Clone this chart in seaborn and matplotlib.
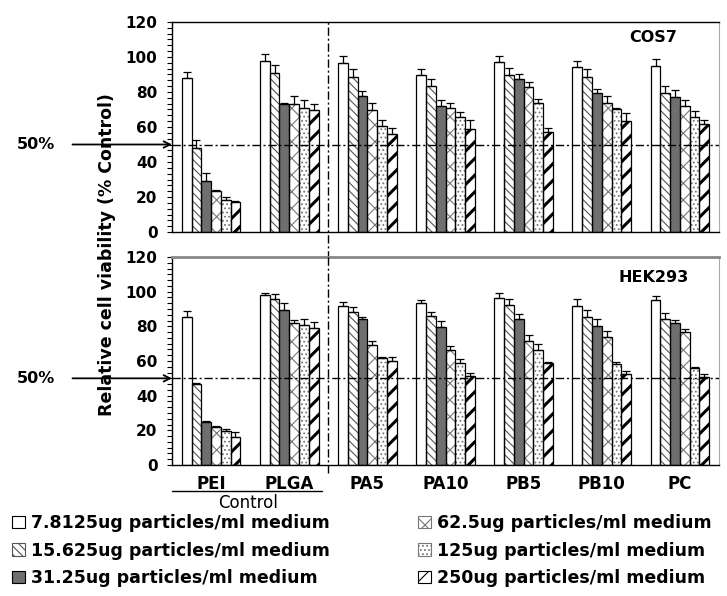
import matplotlib
matplotlib.use("Agg")
import matplotlib.pyplot as plt
import matplotlib.transforms as mtransforms
from matplotlib.patches import Patch, Rectangle
from matplotlib.ticker import MultipleLocator
import seaborn as sns
import pandas as pd
import numpy as np

# materials on the x axis
materials = ["PEI", "PLGA", "PA5", "PA10", "PB5", "PB10", "PC"]
# particle concentrations (hue)
doses = ["7.8125ug particles/ml medium", "15.625ug particles/ml medium",
         "31.25ug particles/ml medium", "62.5ug particles/ml medium",
         "125ug particles/ml medium", "250ug particles/ml medium"]

# COS7 viability, one row per material, one value per dose
cos7_mean = [[88, 48, 29, 23.5, 18.5, 17],
             [98, 91, 73, 73, 71, 69.5],
             [96.5, 88.5, 78, 70, 60.5, 56],
             [89.5, 83.5, 72, 71, 65.5, 59],
             [97, 89.5, 87.5, 83, 74, 57],
             [94.5, 88.5, 79.5, 74, 70.5, 63.5],
             [95, 79.5, 77, 72, 65.5, 62]]
cos7_err = [[3.5, 4.5, 4.5, 0.5, 1.5, 0.5],
            [4, 4.5, 0.5, 4.5, 4.5, 3.5],
            [4, 4.5, 2.5, 3.5, 3.5, 3.5],
            [3.5, 4, 3.5, 2.5, 3, 5],
            [3.5, 4.5, 3, 3, 2, 2.5],
            [3.5, 4.5, 2, 4, 0.5, 4.5],
            [4, 4, 4, 3.5, 3.5, 2]]

# HEK293 viability
hek_mean = [[85.5, 47, 25, 22, 19.5, 16],
            [98, 96, 89.5, 82, 81, 79],
            [91.5, 88.5, 84, 69, 62, 60],
            [93.5, 86, 79.5, 66.5, 59, 51.5],
            [96.5, 92.5, 84, 71.5, 66.5, 59],
            [91.5, 85.5, 80, 74, 58, 52.5],
            [95, 84, 82, 76.5, 56, 51]]
hek_err = [[3.5, 0.5, 0.5, 0.5, 1, 3],
           [1.5, 2.5, 4, 1.5, 3, 3.5],
           [2.5, 2.5, 1.5, 2.5, 0.5, 2.5],
           [1.5, 2.5, 3.5, 2, 2, 1.5],
           [2.5, 3.5, 3, 3.5, 3.5, 0.5],
           [4, 4, 4.5, 3.5, 1.5, 1.5],
           [2.5, 3.5, 1.5, 2, 0.5, 1.5]]

# bar look per dose: face, hatch, hatch colour
faces = ["white", "white", "#6f6f6f", "white", "white", "white"]
hatches = [None, "\\\\\\\\", None, "xx", "....", "//"]
hatch_cols = ["black", "#555555", "black", "#777777", "#777777", "black"]


def long_table(mean, err):
    rows = []
    for i, m in enumerate(materials):
        for j, d in enumerate(doses):
            rows.append({"material": m, "dose": d, "value": mean[i][j], "err": err[i][j]})
    return pd.DataFrame(rows)


sns.set_style("white")
plt.rcParams["font.family"] = ["DejaVu Sans"]
plt.rcParams["font.weight"] = "bold"
plt.rcParams["text.color"] = "black"
plt.rcParams["xtick.color"] = "black"
plt.rcParams["ytick.color"] = "black"
plt.rcParams["hatch.linewidth"] = 0.8

fig = plt.figure(figsize=(7.27, 5.96), dpi=100)
W, H = 727, 596
ax1 = fig.add_axes([172 / W, 1 - 232 / H, 547 / W, 210 / H])
ax2 = fig.add_axes([172 / W, 1 - 465 / H, 547 / W, 208 / H])


def draw(ax, df, name, top_col, name_y):
    sns.barplot(data=df, x="material", y="value", hue="dose", order=materials,
                hue_order=doses, errorbar=None, width=0.75, ax=ax, legend=False)
    bar_sets = list(ax.containers)
    for k, cont in enumerate(bar_sets):
        sub = df[df["dose"] == doses[k]].set_index("material").loc[materials]
        xs, ys = [], []
        for bar in cont:
            bar.set_facecolor(faces[k])
            bar.set_edgecolor(hatch_cols[k])
            bar.set_linewidth(0)
            if hatches[k]:
                bar.set_hatch(hatches[k])
                if k == 5 and hasattr(bar, "set_hatch_linewidth"):
                    bar.set_hatch_linewidth(2.2)
            ax.add_patch(Rectangle(bar.get_xy(), bar.get_width(), bar.get_height(),
                                   fill=False, edgecolor="black", lw=0.9, zorder=3))
            xs.append(bar.get_x() + bar.get_width() / 2)
            ys.append(bar.get_height())
        ax.errorbar(xs, ys, yerr=[np.zeros(len(ys)), sub["err"].values], fmt="none",
                    ecolor="black", elinewidth=0.9, capsize=3, capthick=0.9, zorder=4)
    ax.set_xlim(-0.5, 6.5)
    ax.set_ylim(0, 120)
    ax.yaxis.set_major_locator(MultipleLocator(20))
    ax.yaxis.set_minor_locator(MultipleLocator(20 / 6))
    ax.tick_params(axis="y", which="both", left=True, direction="out", length=3.5,
                   width=0.8, labelsize=11, pad=7)
    ax.tick_params(axis="x", bottom=False)
    for lab in ax.get_yticklabels():
        lab.set_fontweight("bold")
    ax.set_xlabel("")
    ax.set_ylabel("")
    for s in ["left", "bottom"]:
        ax.spines[s].set_color("black")
        ax.spines[s].set_linewidth(1)
    ax.spines["right"].set_color("#aaaaaa")
    ax.spines["top"].set_color(top_col)
    ax.spines["top"].set_linewidth(1 if top_col == "black" else 2)
    ax.axhline(50, color="black", lw=1, ls=(0, (6, 2, 1.5, 2)), zorder=5)
    ax.text(0.88, name_y, name, transform=ax.transAxes, ha="center", va="center",
            fontsize=11.5, fontweight="bold")
    ax.annotate("50%", xy=(-0.5, 50), xycoords="data", xytext=(-84, 0),
                textcoords="offset points", ha="right", va="center", fontsize=11.5,
                fontweight="bold", annotation_clip=False,
                arrowprops=dict(arrowstyle="->", color="black", lw=1.3, shrinkA=10, shrinkB=0))


draw(ax1, long_table(cos7_mean, cos7_err), "COS7", "black", 0.925)
draw(ax2, long_table(hek_mean, hek_err), "HEK293", "#888888", 0.9)

ax1.set_xticklabels([])
ax2.set_xticks(range(len(materials)))
ax2.set_xticklabels(materials, fontsize=12, fontweight="bold")
ax2.tick_params(axis="x", pad=4)

# control divider between PLGA and PA5
ax1.axvline(1.5, ymin=-0.13, ymax=1, color="black", lw=1, ls=(0, (6, 2, 1.5, 2)),
            clip_on=False, zorder=5)
ax2.axvline(1.5, ymin=-0.04, ymax=1, color="black", lw=1, ls=(0, (6, 2, 1.5, 2)),
            clip_on=False, zorder=5)

# "Control" bracket under PEI / PLGA
tr = mtransforms.blended_transform_factory(ax2.transData, ax2.transAxes)
ax2.plot([-0.5, 1.42], [-0.125, -0.125], color="black", lw=1, transform=tr, clip_on=False)
ax2.text(0.47, -0.183, "Control", transform=tr, ha="center", va="center",
         fontsize=12, fontweight="normal")

fig.text(107 / W, 1 - 255 / H, "Relative cell viability (% Control)", rotation=90,
         ha="center", va="center", fontsize=12.5, fontweight="bold")

handles = [Patch(facecolor=faces[k], edgecolor="black" if not hatches[k] else hatch_cols[k],
                 hatch=hatches[k], lw=0.8) for k in range(len(doses))]
fig.legend(handles, doses, loc="upper left", bbox_to_anchor=(12 / W, 1 - 514 / H),
           ncol=2, frameon=False, handlelength=0.75, handleheight=0.75,
           handletextpad=0.35, columnspacing=5.05, labelspacing=0.55, borderaxespad=0,
           borderpad=0, prop={"weight": "bold", "size": 12.5})

fig.savefig("out.png", dpi=100)
